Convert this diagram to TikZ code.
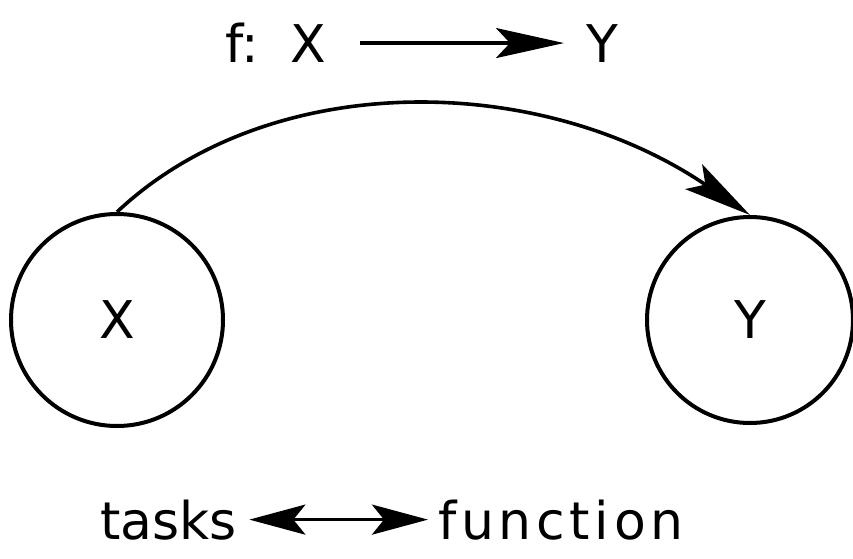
\documentclass[tikz,border=0pt]{standalone}
\usepackage{fontspec}
\setmainfont{DejaVu Sans}
\usepackage{tikz}
\usetikzlibrary{arrows.meta}
\tikzset{
  set/.style={
    circle,
    draw=black,
    line width=2pt,
    font=\fontsize{26}{30}\selectfont
  },
  label/.style={
    inner sep=0pt,
    anchor=base west,
    font=\fontsize{26}{30}\selectfont
  },
  arrow/.style={
    -{Stealth[length=34pt, width=15pt, inset=7pt]},
    line width=1.8pt
  },
  twoway/.style={
    {Stealth[length=28pt, width=15pt, inset=6pt]}-{Stealth[length=28pt, width=15pt, inset=6pt]},
    line width=1.8pt
  }
}

\begin{document}
\begin{tikzpicture}[x=0.5pt, y=-0.5pt]
    \useasboundingbox (0,0) rectangle (853,558);

    \node[label] (f) at (225,62) {f:};
    \node[label] (xtop) at (290,62) {X};
    \node[label] (ytop) at (586,62) {Y};

    \node[set, minimum size=106pt] (xset) at (117,320) {X};
    \node[set, minimum size=103pt] (yset) at (750,320) {Y};

    \node[label] (tasks) at (100,539) {tasks};
    \node[label] (function) at (438,539) {\addfontfeature{LetterSpace=9}function};

    \draw[arrow, shorten <=17pt, shorten >=11pt] (xtop.east) -- (ytop.west);
    \draw[arrow] (xset.north) .. controls (270,68) and (540,72) .. (yset.north);
    \draw[twoway, shorten <=6pt, shorten >=5pt] (tasks.east) -- (function.west);
\end{tikzpicture}
\end{document}
